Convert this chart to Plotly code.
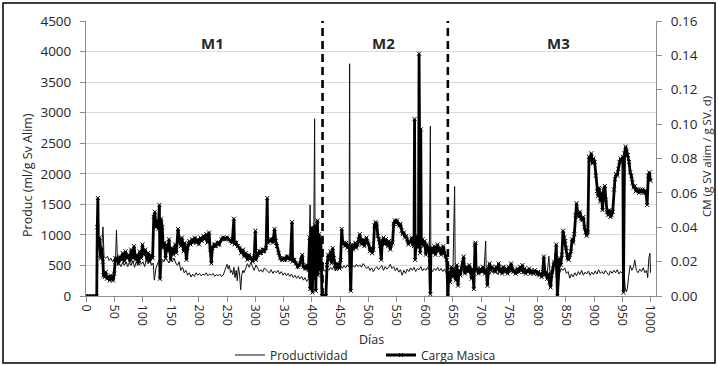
import plotly.graph_objects as go

# ---------------- data ----------------
prod_days = [0, 5, 10, 15, 19, 20, 22, 24, 26, 28, 30, 32, 35, 38, 41, 44, 47, 50, 52, 54, 56, 59, 62, 65, 68, 71, 74, 77, 80, 83, 86, 89, 92, 95, 98, 101, 104, 107, 110, 113, 116, 119, 121, 124, 126, 129, 132, 135, 138, 141, 144, 147, 150, 153, 156, 159, 162, 165, 168, 171, 174, 177, 180, 183, 186, 189, 192, 195, 198, 201, 204, 207, 210, 213, 216, 219, 222, 225, 228, 231, 234, 237, 240, 243, 246, 248, 250, 252, 254, 256, 258, 260, 262, 264, 266, 268, 270, 272, 274, 276, 278, 280, 283, 286, 289, 292, 295, 298, 301, 304, 307, 310, 313, 316, 319, 322, 325, 328, 331, 334, 337, 340, 343, 346, 349, 352, 355, 358, 361, 364, 367, 370, 373, 376, 379, 382, 385, 388, 391, 394, 397, 399, 400, 403, 405, 406, 409, 412, 415, 418, 421, 424, 427, 430, 433, 436, 439, 442, 445, 448, 451, 454, 457, 460, 463, 466, 467, 468, 470, 473, 476, 479, 482, 485, 488, 491, 494, 497, 500, 503, 506, 509, 512, 515, 518, 521, 524, 527, 530, 533, 536, 539, 542, 545, 548, 551, 554, 557, 560, 563, 566, 569, 572, 575, 578, 581, 584, 587, 590, 593, 596, 599, 602, 605, 608, 610, 611, 614, 617, 620, 623, 626, 629, 632, 635, 638, 641, 644, 647, 650, 653, 654, 657, 660, 663, 666, 669, 672, 675, 678, 681, 684, 687, 690, 693, 696, 699, 702, 705, 708, 709, 712, 715, 718, 721, 724, 727, 730, 733, 736, 739, 742, 745, 748, 751, 754, 757, 760, 763, 766, 769, 772, 775, 778, 781, 784, 787, 790, 793, 796, 799, 802, 805, 808, 811, 814, 817, 820, 822, 825, 828, 831, 833, 836, 839, 842, 845, 848, 851, 854, 857, 860, 863, 866, 869, 872, 875, 878, 881, 884, 887, 890, 893, 896, 899, 902, 905, 908, 911, 914, 917, 920, 923, 926, 929, 932, 935, 938, 941, 944, 947, 950, 953, 955, 957, 959, 961, 964, 967, 970, 972, 975, 978, 981, 984, 987, 990, 993, 995, 997, 999, 1000]
prod_values = [0, 0, 0, 0, 0, 650, 1000, 700, 650, 800, 1130, 640, 620, 650, 580, 620, 560, 600, 520, 1080, 500, 520, 480, 550, 500, 560, 480, 540, 500, 580, 470, 560, 500, 590, 520, 560, 480, 600, 530, 580, 500, 540, 260, 460, 520, 580, 260, 600, 560, 620, 580, 540, 600, 560, 620, 540, 500, 560, 420, 470, 380, 420, 340, 380, 310, 360, 320, 380, 340, 370, 330, 360, 340, 380, 330, 360, 340, 370, 320, 350, 330, 360, 320, 340, 420, 480, 520, 440, 500, 380, 420, 350, 470, 300, 420, 250, 480, 360, 100, 350, 420, 380, 450, 530, 470, 550, 480, 420, 510, 440, 400, 430, 390, 460, 420, 400, 380, 430, 370, 410, 380, 420, 360, 400, 340, 380, 330, 370, 320, 360, 300, 340, 290, 330, 280, 320, 260, 300, 240, 280, 1490, 200, 380, 420, 2900, 380, 430, 400, 460, 380, 430, 400, 450, 420, 470, 430, 480, 410, 460, 440, 490, 450, 500, 460, 510, 470, 3800, 80, 460, 500, 470, 520, 480, 510, 470, 530, 490, 450, 480, 420, 460, 400, 450, 480, 430, 470, 500, 420, 480, 440, 470, 520, 450, 480, 410, 460, 390, 430, 340, 420, 370, 440, 400, 460, 420, 470, 400, 450, 430, 480, 410, 450, 420, 470, 430, 2780, 440, 400, 450, 420, 470, 410, 450, 400, 440, 380, 420, 350, 430, 380, 1790, 400, 360, 420, 370, 440, 390, 450, 400, 460, 410, 380, 430, 400, 460, 410, 370, 430, 400, 900, 380, 420, 350, 410, 380, 440, 390, 350, 420, 380, 440, 400, 360, 420, 380, 430, 390, 350, 410, 370, 430, 390, 360, 410, 380, 420, 370, 400, 360, 400, 370, 410, 380, 350, 400, 420, 380, 650, 350, 420, 380, 700, 300, 420, 380, 450, 420, 460, 370, 400, 290, 360, 310, 380, 330, 400, 350, 420, 340, 390, 360, 410, 340, 390, 350, 410, 360, 430, 370, 400, 360, 420, 380, 340, 410, 370, 420, 380, 430, 360, 400, 370, 410, 150, 70, 120, 300, 500, 420, 480, 590, 420, 380, 440, 400, 460, 380, 420, 300, 620, 700, 380]

cm_days = [0, 5, 10, 15, 19, 20, 21, 22, 24, 26, 28, 30, 31, 33, 35, 37, 40, 42, 44, 46, 48, 50, 52, 53, 55, 58, 60, 63, 65, 68, 70, 73, 75, 78, 80, 83, 85, 88, 90, 93, 95, 98, 100, 102, 105, 108, 110, 113, 115, 118, 120, 122, 124, 126, 128, 130, 131, 133, 135, 137, 139, 141, 143, 145, 147, 150, 152, 155, 158, 160, 163, 165, 168, 170, 173, 175, 178, 180, 183, 185, 188, 190, 193, 195, 198, 200, 203, 205, 208, 210, 213, 215, 218, 220, 222, 224, 227, 230, 233, 236, 240, 243, 246, 250, 253, 256, 259, 262, 263, 266, 269, 272, 275, 278, 280, 283, 286, 289, 292, 295, 298, 300, 301, 304, 307, 310, 313, 316, 319, 321, 322, 325, 328, 331, 334, 336, 338, 341, 344, 347, 350, 353, 356, 359, 362, 365, 366, 369, 372, 375, 378, 381, 383, 385, 388, 391, 394, 396, 397, 399, 400, 401, 403, 404, 406, 407, 409, 410, 411, 413, 414, 416, 418, 420, 423, 425, 427, 429, 431, 433, 435, 437, 439, 441, 443, 445, 447, 449, 451, 453, 455, 457, 459, 461, 463, 465, 467, 469, 471, 473, 475, 477, 479, 481, 483, 485, 487, 489, 491, 493, 495, 497, 499, 501, 503, 505, 507, 509, 511, 513, 515, 517, 519, 521, 523, 525, 527, 529, 531, 533, 535, 537, 539, 541, 543, 545, 547, 549, 551, 553, 555, 557, 559, 561, 563, 565, 567, 569, 571, 573, 575, 577, 579, 581, 582, 583, 585, 587, 589, 590, 592, 593, 594, 596, 598, 600, 602, 604, 606, 608, 610, 611, 613, 615, 617, 619, 621, 623, 625, 627, 629, 631, 633, 635, 637, 639, 641, 643, 645, 647, 649, 651, 653, 655, 657, 659, 661, 663, 665, 667, 669, 671, 673, 675, 677, 679, 681, 683, 685, 687, 689, 690, 691, 693, 695, 697, 699, 701, 703, 705, 707, 709, 711, 713, 715, 717, 719, 721, 723, 725, 727, 729, 731, 733, 735, 737, 739, 741, 743, 745, 747, 749, 751, 753, 755, 757, 759, 761, 763, 765, 767, 769, 771, 773, 775, 777, 779, 781, 783, 785, 787, 789, 791, 793, 795, 797, 799, 801, 803, 805, 807, 809, 811, 813, 815, 817, 819, 821, 823, 825, 827, 829, 831, 833, 835, 837, 839, 841, 843, 845, 847, 849, 851, 853, 855, 857, 859, 861, 863, 865, 867, 869, 871, 873, 875, 877, 879, 881, 883, 885, 887, 889, 891, 893, 895, 897, 899, 901, 903, 905, 907, 909, 911, 913, 915, 917, 919, 921, 923, 925, 927, 929, 931, 933, 935, 937, 939, 941, 943, 945, 947, 949, 951, 952, 954, 956, 958, 960, 962, 964, 966, 968, 970, 972, 974, 976, 978, 980, 982, 984, 986, 988, 990, 992, 994, 996, 998, 1000]
cm_values = [0.0, 0.0, 0.0, 0.0, 0.0, 0.040, 0.057, 0.030, 0.034, 0.022, 0.028, 0.020, 0.012, 0.011, 0.014, 0.010, 0.011, 0.009, 0.012, 0.010, 0.009, 0.013, 0.022, 0.020, 0.022, 0.019, 0.023, 0.021, 0.025, 0.020, 0.026, 0.022, 0.024, 0.020, 0.027, 0.022, 0.029, 0.021, 0.024, 0.019, 0.026, 0.022, 0.030, 0.024, 0.027, 0.021, 0.025, 0.020, 0.024, 0.022, 0.046, 0.049, 0.040, 0.044, 0.039, 0.053, 0.010, 0.045, 0.040, 0.028, 0.031, 0.022, 0.030, 0.026, 0.033, 0.021, 0.028, 0.024, 0.030, 0.025, 0.039, 0.033, 0.029, 0.034, 0.026, 0.031, 0.021, 0.028, 0.032, 0.030, 0.033, 0.031, 0.034, 0.031, 0.033, 0.030, 0.034, 0.032, 0.035, 0.033, 0.036, 0.031, 0.037, 0.027, 0.019, 0.028, 0.030, 0.029, 0.031, 0.030, 0.033, 0.034, 0.033, 0.034, 0.033, 0.032, 0.031, 0.045, 0.030, 0.031, 0.029, 0.028, 0.025, 0.027, 0.023, 0.025, 0.021, 0.024, 0.022, 0.020, 0.023, 0.038, 0.021, 0.024, 0.026, 0.025, 0.027, 0.026, 0.028, 0.057, 0.031, 0.032, 0.033, 0.031, 0.039, 0.032, 0.029, 0.025, 0.022, 0.021, 0.022, 0.021, 0.023, 0.022, 0.021, 0.043, 0.020, 0.021, 0.019, 0.017, 0.018, 0.021, 0.024, 0.017, 0.016, 0.018, 0.015, 0.034, 0.004, 0.030, 0.040, 0.002, 0.038, 0.010, 0.041, 0.003, 0.037, 0.044, 0.012, 0.036, 0.015, 0.034, 0.000, 0.000, 0.000, 0.000, 0.018, 0.024, 0.021, 0.026, 0.019, 0.028, 0.022, 0.018, 0.016, 0.019, 0.017, 0.016, 0.021, 0.039, 0.030, 0.031, 0.029, 0.031, 0.028, 0.030, 0.027, 0.003, 0.030, 0.027, 0.029, 0.031, 0.028, 0.030, 0.033, 0.036, 0.031, 0.030, 0.033, 0.029, 0.032, 0.034, 0.031, 0.030, 0.026, 0.028, 0.025, 0.027, 0.041, 0.043, 0.042, 0.035, 0.033, 0.029, 0.021, 0.032, 0.034, 0.030, 0.033, 0.031, 0.029, 0.032, 0.027, 0.030, 0.031, 0.042, 0.044, 0.043, 0.044, 0.042, 0.041, 0.042, 0.038, 0.036, 0.037, 0.034, 0.035, 0.033, 0.030, 0.032, 0.031, 0.034, 0.030, 0.029, 0.103, 0.021, 0.033, 0.035, 0.028, 0.141, 0.025, 0.097, 0.030, 0.033, 0.029, 0.032, 0.024, 0.030, 0.026, 0.028, 0.001, 0.027, 0.028, 0.025, 0.029, 0.024, 0.027, 0.030, 0.026, 0.028, 0.024, 0.026, 0.029, 0.025, 0.023, 0.021, 0.000, 0.014, 0.008, 0.017, 0.011, 0.016, 0.013, 0.009, 0.018, 0.006, 0.015, 0.012, 0.016, 0.019, 0.023, 0.013, 0.017, 0.016, 0.014, 0.018, 0.015, 0.010, 0.016, 0.004, 0.030, 0.031, 0.015, 0.016, 0.013, 0.015, 0.016, 0.014, 0.017, 0.015, 0.013, 0.015, 0.006, 0.016, 0.019, 0.015, 0.017, 0.016, 0.015, 0.014, 0.017, 0.015, 0.019, 0.014, 0.016, 0.013, 0.017, 0.016, 0.014, 0.016, 0.013, 0.017, 0.015, 0.019, 0.016, 0.014, 0.015, 0.013, 0.015, 0.016, 0.014, 0.017, 0.015, 0.018, 0.014, 0.016, 0.013, 0.015, 0.014, 0.016, 0.013, 0.015, 0.014, 0.013, 0.015, 0.014, 0.013, 0.014, 0.012, 0.013, 0.011, 0.014, 0.023, 0.012, 0.014, 0.010, 0.013, 0.008, 0.005, 0.012, 0.016, 0.020, 0.018, 0.030, 0.000, 0.016, 0.022, 0.018, 0.024, 0.038, 0.034, 0.032, 0.028, 0.022, 0.021, 0.024, 0.026, 0.033, 0.031, 0.036, 0.047, 0.054, 0.048, 0.046, 0.049, 0.045, 0.044, 0.046, 0.040, 0.037, 0.035, 0.037, 0.081, 0.079, 0.083, 0.077, 0.080, 0.078, 0.070, 0.061, 0.058, 0.063, 0.055, 0.060, 0.050, 0.062, 0.064, 0.056, 0.049, 0.047, 0.050, 0.046, 0.047, 0.049, 0.062, 0.068, 0.071, 0.070, 0.074, 0.078, 0.080, 0.079, 0.081, 0.002, 0.083, 0.087, 0.084, 0.082, 0.078, 0.072, 0.070, 0.066, 0.063, 0.064, 0.061, 0.062, 0.061, 0.060, 0.062, 0.061, 0.062, 0.060, 0.061, 0.060, 0.053, 0.070, 0.072, 0.067]

phase_bounds = [419, 641]
phase_labels = ["M1", "M2", "M3"]
phase_label_days = [224, 527, 837]

x_ticks = list(range(0, 1001, 50))

# ---------------- figure ----------------
FONT = "Open Sans"
W, H = 718, 366
L, R, T, B = 86, 62, 21, 70
pw, ph = W - L - R, H - T - B

def px2paper_x(px):
    return (px - L) / pw

def px2paper_y(py):
    return (H - B - py) / ph

fig = go.Figure()
fig.add_trace(go.Scatter(
    x=prod_days, y=prod_values, name="Productividad", mode="lines",
    line=dict(color="#111111", width=1), yaxis="y", legend="legend",
))
fig.add_trace(go.Scatter(
    x=cm_days, y=cm_values, name="Carga Masica", mode="lines+markers",
    line=dict(color="#000000", width=2.8),
    marker=dict(symbol="x-thin", size=4, line=dict(color="#000000", width=1)),
    yaxis="y2", legend="legend2",
))

shapes = []
for d in phase_bounds:
    shapes.append(dict(type="line", xref="x", yref="y", x0=d, x1=d, y0=0, y1=4500,
                       line=dict(color="black", width=2.6, dash="8px,5px"), layer="above"))
shapes.append(dict(type="rect", xref="paper", yref="paper",
                   x0=px2paper_x(3), x1=px2paper_x(715), y0=px2paper_y(363), y1=px2paper_y(3),
                   line=dict(color="black", width=1.5)))

txt = "#262626"
annotations = []
for lab, d in zip(phase_labels, phase_label_days):
    annotations.append(dict(x=d, y=4140, xref="x", yref="y", text="<b>%s</b>" % lab,
                            xanchor="center", yanchor="middle",
                            showarrow=False, font=dict(family=FONT, size=15, color=txt)))
annotations.append(dict(x=px2paper_x(27), y=px2paper_y(175), xref="paper", yref="paper",
                        text="Produc (ml/g Sv Alim)", textangle=-90, showarrow=False,
                        xanchor="center", yanchor="middle",
                        font=dict(family=FONT, size=12.5, color=txt)))
annotations.append(dict(x=px2paper_x(706), y=px2paper_y(157), xref="paper", yref="paper",
                        text="CM (g SV alim / g SV. d)", textangle=-90, showarrow=False,
                        xanchor="center", yanchor="middle",
                        font=dict(family=FONT, size=11.5, color=txt)))
annotations.append(dict(x=px2paper_x(371), y=px2paper_y(339), xref="paper", yref="paper",
                        text="Días", showarrow=False, xanchor="center", yanchor="middle",
                        font=dict(family=FONT, size=12.5, color=txt)))

axis_gray = "#8c8c8c"
legend_common = dict(orientation="h", yanchor="middle", xanchor="left",
                     font=dict(family=FONT, size=12, color=txt), bgcolor="rgba(0,0,0,0)",
                     itemwidth=30, tracegroupgap=0, borderwidth=0)
fig.update_layout(
    width=W, height=H, margin=dict(l=L, r=R, t=T, b=B, autoexpand=False),
    paper_bgcolor="white", plot_bgcolor="white",
    font=dict(family=FONT, size=13, color=txt),
    xaxis=dict(range=[0, 1009.7], tickvals=x_ticks, ticktext=[str(v) for v in x_ticks],
               tickangle=90, ticks="outside", ticklen=5, tickcolor=axis_gray,
               showline=True, linecolor=axis_gray, linewidth=1, showgrid=False, zeroline=False,
               tickfont=dict(family=FONT, size=12.5, color=txt), automargin=False),
    yaxis=dict(range=[0, 4500], dtick=500, ticks="outside", ticklen=5, tickcolor=axis_gray,
               showline=True, linecolor=axis_gray, linewidth=1, automargin=False,
               showgrid=True, gridcolor="#d9d9d9", gridwidth=1, zeroline=False,
               tickfont=dict(family=FONT, size=13.5, color=txt), ticklabelstandoff=6),
    yaxis2=dict(range=[0, 0.16], dtick=0.02, tickformat=".2f", overlaying="y", side="right",
                ticks="outside", ticklen=5, tickcolor=axis_gray, automargin=False,
                showline=True, linecolor=axis_gray, linewidth=1, showgrid=False, zeroline=False,
                tickfont=dict(family=FONT, size=13.5, color=txt), ticklabelstandoff=6),
    legend=dict(x=px2paper_x(230), y=px2paper_y(355), **legend_common),
    legend2=dict(x=px2paper_x(381), y=px2paper_y(355), **legend_common),
    showlegend=True,
    shapes=shapes, annotations=annotations,
)

fig.write_html("out.html", config={"displayModeBar": False},
               post_script="document.body.style.margin='0';document.body.style.overflow='hidden';")
